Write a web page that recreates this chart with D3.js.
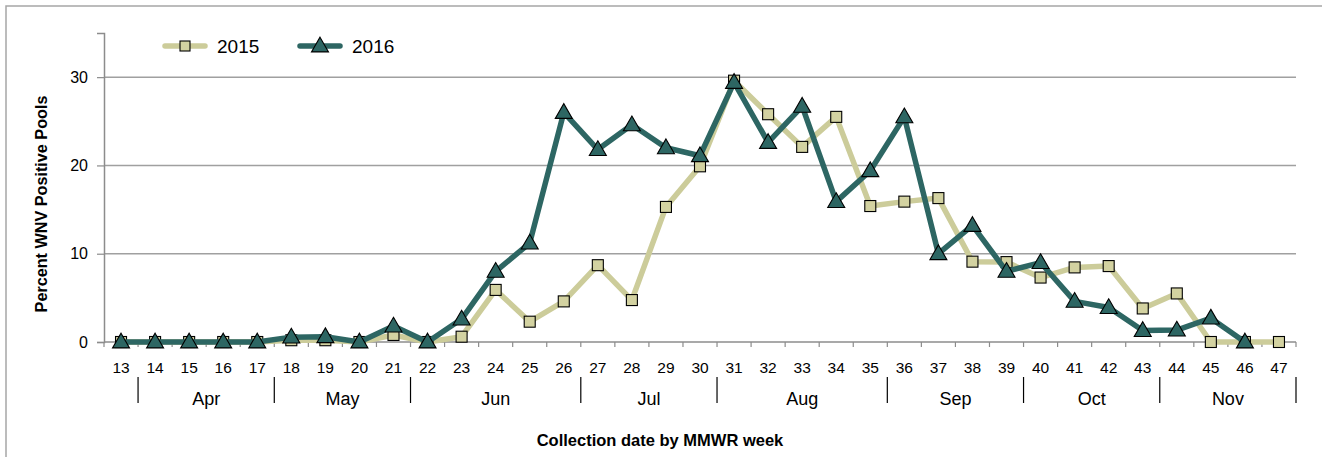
<!DOCTYPE html>
<html>
<head>
<meta charset="utf-8">
<script src="https://cdn.jsdelivr.net/npm/d3@7"></script>
<style>
  html, body { margin: 0; padding: 0; background: #fff; }
  svg { display: block; font-family: "Liberation Sans", Arial, sans-serif; }
</style>
</head>
<body>
<svg id="chart" width="1322" height="457"></svg>
<script>
const weeks = [13,14,15,16,17,18,19,20,21,22,23,24,25,26,27,28,29,30,31,32,33,34,35,36,37,38,39,40,41,42,43,44,45,46,47];
const values2015 = [0,0,0,0,0,0.2,0.2,0,0.8,0,0.6,5.9,2.3,4.6,8.7,4.75,15.3,19.9,29.6,25.8,22.1,25.5,15.4,15.9,16.3,9.1,9.05,7.3,8.45,8.6,3.8,5.5,0,0,0];
const values2016 = [0,0,0,0,0,0.55,0.6,0,1.8,0,2.6,8.0,11.2,26.0,21.8,24.6,22.0,21.1,29.4,22.6,26.7,15.9,19.4,25.5,10.0,13.2,8.0,9.0,4.6,3.9,1.3,1.35,2.7,0,null];
const months = [
  {name: "Apr", start: 14, end: 17},
  {name: "May", start: 18, end: 21},
  {name: "Jun", start: 22, end: 26},
  {name: "Jul", start: 27, end: 30},
  {name: "Aug", start: 31, end: 35},
  {name: "Sep", start: 36, end: 39},
  {name: "Oct", start: 40, end: 43},
  {name: "Nov", start: 44, end: 47}
];
const yTicks = [0, 10, 20, 30];
const seriesNames = ["2015", "2016"];

const svg = d3.select("#chart");
const plotLeft = 104, plotRight = 1296, plotTop = 33, plotBottom = 342;

const x = d3.scaleBand().domain(weeks).range([plotLeft, plotRight]).padding(0);
const y = d3.scaleLinear().domain([0, 35]).range([plotBottom, plotTop]);
const cx = w => x(w) + x.bandwidth() / 2;

// outer frame
svg.append("rect").attr("x", 6).attr("y", 6).attr("width", 1340).attr("height", 480)
  .attr("fill", "none").attr("stroke", "#a6a6a6").attr("stroke-width", 1.5);

// gridlines
svg.append("g").selectAll("line").data(yTicks.filter(d => d > 0)).join("line")
  .attr("x1", plotLeft).attr("x2", plotRight)
  .attr("y1", d => y(d)).attr("y2", d => y(d))
  .attr("stroke", "#a0a0a0").attr("stroke-width", 1.5);

// y axis
const yAxis = svg.append("g").attr("transform", `translate(${plotLeft},0)`)
  .call(d3.axisLeft(y).tickValues(yTicks).tickSize(7).tickPadding(9));
yAxis.select(".domain").attr("stroke", "#8c8c8c").attr("stroke-width", 1.5);
yAxis.selectAll(".tick line").attr("stroke", "#8c8c8c").attr("stroke-width", 1.2);
yAxis.selectAll(".tick text").attr("font-size", 16).attr("fill", "#000")
  .attr("font-family", "Liberation Sans, Arial, sans-serif");

// x axis line and boundary ticks
svg.append("line").attr("x1", plotLeft).attr("x2", plotRight).attr("y1", plotBottom).attr("y2", plotBottom)
  .attr("stroke", "#8c8c8c").attr("stroke-width", 1.5);
const boundaries = weeks.map(w => x(w)).concat([plotRight]);
svg.append("g").selectAll("line").data(boundaries).join("line")
  .attr("x1", d => d).attr("x2", d => d).attr("y1", plotBottom).attr("y2", plotBottom + 5)
  .attr("stroke", "#8c8c8c").attr("stroke-width", 1.2);

// week labels
svg.append("g").selectAll("text").data(weeks).join("text")
  .attr("x", d => cx(d)).attr("y", 373)
  .attr("text-anchor", "middle").attr("font-size", 15.5).attr("fill", "#000")
  .text(d => d);

// month separators & labels
const sepX = months.map(m => x(m.start)).concat([plotRight]);
svg.append("g").selectAll("line").data(sepX).join("line")
  .attr("x1", d => d).attr("x2", d => d).attr("y1", 377).attr("y2", 403)
  .attr("stroke", "#000").attr("stroke-width", 1.2);
svg.append("g").selectAll("text").data(months).join("text")
  .attr("x", m => (x(m.start) + x(m.end) + x.bandwidth()) / 2).attr("y", 405)
  .attr("text-anchor", "middle").attr("font-size", 18).attr("fill", "#000")
  .text(m => m.name);

// axis titles
svg.append("text").attr("x", 660).attr("y", 446).attr("text-anchor", "middle")
  .attr("font-size", 16.5).attr("font-weight", "bold").attr("fill", "#000")
  .text("Collection date by MMWR week");
svg.append("text").attr("transform", "translate(47,204) rotate(-90)")
  .attr("text-anchor", "middle").attr("font-size", 16.2).attr("font-weight", "bold").attr("fill", "#000")
  .text("Percent WNV Positive Pools");

// lines
const c2015 = "#cccc9a", f2015 = "#d3d2a1";
const c2016 = "#2d6663", f2016 = "#2d6663";
const line = d3.line().defined(d => d.v !== null).x(d => cx(d.w)).y(d => y(d.v));
const d15 = weeks.map((w, i) => ({w, v: values2015[i]}));
const d16 = weeks.map((w, i) => ({w, v: values2016[i]}));

svg.append("path").datum(d15).attr("d", line).attr("fill", "none")
  .attr("stroke", c2015).attr("stroke-width", 5.5).attr("stroke-linejoin", "round");
svg.append("g").selectAll("rect").data(d15).join("rect")
  .attr("x", d => cx(d.w) - 5.5).attr("y", d => y(d.v) - 5.5)
  .attr("width", 11).attr("height", 11)
  .attr("fill", f2015).attr("stroke", "#000").attr("stroke-width", 1.1);

svg.append("path").datum(d16).attr("d", line).attr("fill", "none")
  .attr("stroke", c2016).attr("stroke-width", 5.5).attr("stroke-linejoin", "round");
const tri = d3.symbol().type(d3.symbolTriangle).size(125);
svg.append("g").selectAll("path").data(d16.filter(d => d.v !== null)).join("path")
  .attr("d", tri).attr("transform", d => `translate(${cx(d.w)},${y(d.v) + 1})`)
  .attr("fill", f2016).attr("stroke", "#000").attr("stroke-width", 1.1);

// legend
const lg = svg.append("g");
lg.append("line").attr("x1", 165).attr("x2", 205).attr("y1", 46).attr("y2", 46)
  .attr("stroke", c2015).attr("stroke-width", 5.5).attr("stroke-linecap", "round");
lg.append("rect").attr("x", 180).attr("y", 41).attr("width", 10).attr("height", 10)
  .attr("fill", f2015).attr("stroke", "#000").attr("stroke-width", 1.1);
lg.append("text").attr("x", 217).attr("y", 53).attr("font-size", 19).attr("fill", "#000").text(seriesNames[0]);
lg.append("line").attr("x1", 300).attr("x2", 340).attr("y1", 46).attr("y2", 46)
  .attr("stroke", c2016).attr("stroke-width", 5.5).attr("stroke-linecap", "round");
lg.append("path").attr("d", tri).attr("transform", "translate(320,47)")
  .attr("fill", f2016).attr("stroke", "#000").attr("stroke-width", 1.1);
lg.append("text").attr("x", 352).attr("y", 53).attr("font-size", 19).attr("fill", "#000").text(seriesNames[1]);
</script>
</body>
</html>
